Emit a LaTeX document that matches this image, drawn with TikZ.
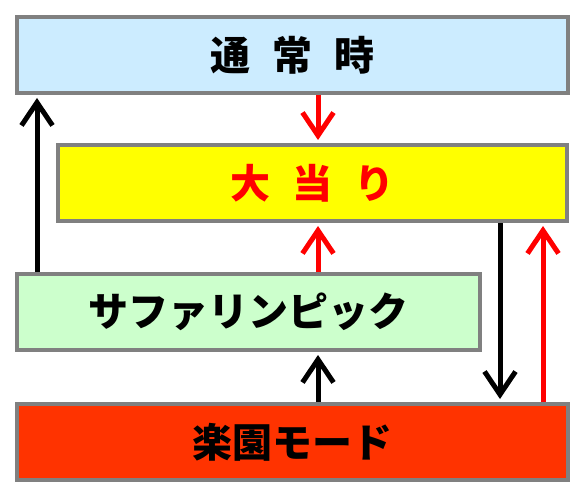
\documentclass[tikz,border=0pt]{standalone}
\usepackage{fontspec}
\usepackage{xcolor}
\usepackage{tikz}
\usetikzlibrary{arrows.meta,positioning}
\newfontfamily\jpfont{Noto Sans CJK JP Black}[WordSpace=2.4]
\definecolor{StateGrey}{HTML}{808080}
\definecolor{NormalBlue}{HTML}{CCECFF}
\definecolor{JackpotYellow}{HTML}{FFFF00}
\definecolor{SafariGreen}{HTML}{CCFFCC}
\definecolor{ParadiseRed}{HTML}{FF3300}
\definecolor{ArrowRed}{HTML}{FF0000}

\begin{document}
\begin{tikzpicture}[
  statebox/.style={
    draw=StateGrey,
    line width=4pt,
    minimum height=76pt,
    inner sep=0pt,
    font=\jpfont\fontsize{40}{48}\selectfont
  },
  flowarrow/.style={-{Straight Barb[length=23pt,width=31pt]}, line width=5pt, shorten >=3pt},
  hitarrow/.style={flowarrow, draw=ArrowRed}
]
\useasboundingbox (0,0) rectangle (585pt,-497pt);
\node[statebox, fill=NormalBlue, minimum width=551pt] (normal) at (292.5pt,-55pt) {通 常 時};
\node[statebox, fill=JackpotYellow, text=ArrowRed, minimum width=509pt, below left=48pt and 0pt of normal.south east, xshift=-1pt] (jackpot) {大 当 り};
\node[statebox, fill=SafariGreen, minimum width=463pt, below=49pt of jackpot.south -| normal.west, anchor=north west] (safari) {サファリンピック};
\node[statebox, fill=ParadiseRed, minimum width=551pt, below=50pt of safari.south -| normal.west, anchor=north west] (paradise) {楽園モード};
% arrow columns
\coordinate (colL) at (37pt,0);
\coordinate (colM) at (318pt,0);
\coordinate (colR) at (500pt,0);
\coordinate (colX) at (543pt,0);
\draw[flowarrow] (safari.north -| colL) -- (normal.south -| colL);
\draw[hitarrow] (normal.south -| colM) -- (jackpot.north -| colM);
\draw[hitarrow] (safari.north -| colM) -- (jackpot.south -| colM);
\draw[flowarrow] (paradise.north -| colM) -- (safari.south -| colM);
\draw[flowarrow] (jackpot.south -| colR) -- (paradise.north -| colR);
\draw[hitarrow] (paradise.north -| colX) -- (jackpot.south -| colX);
\end{tikzpicture}
\end{document}
